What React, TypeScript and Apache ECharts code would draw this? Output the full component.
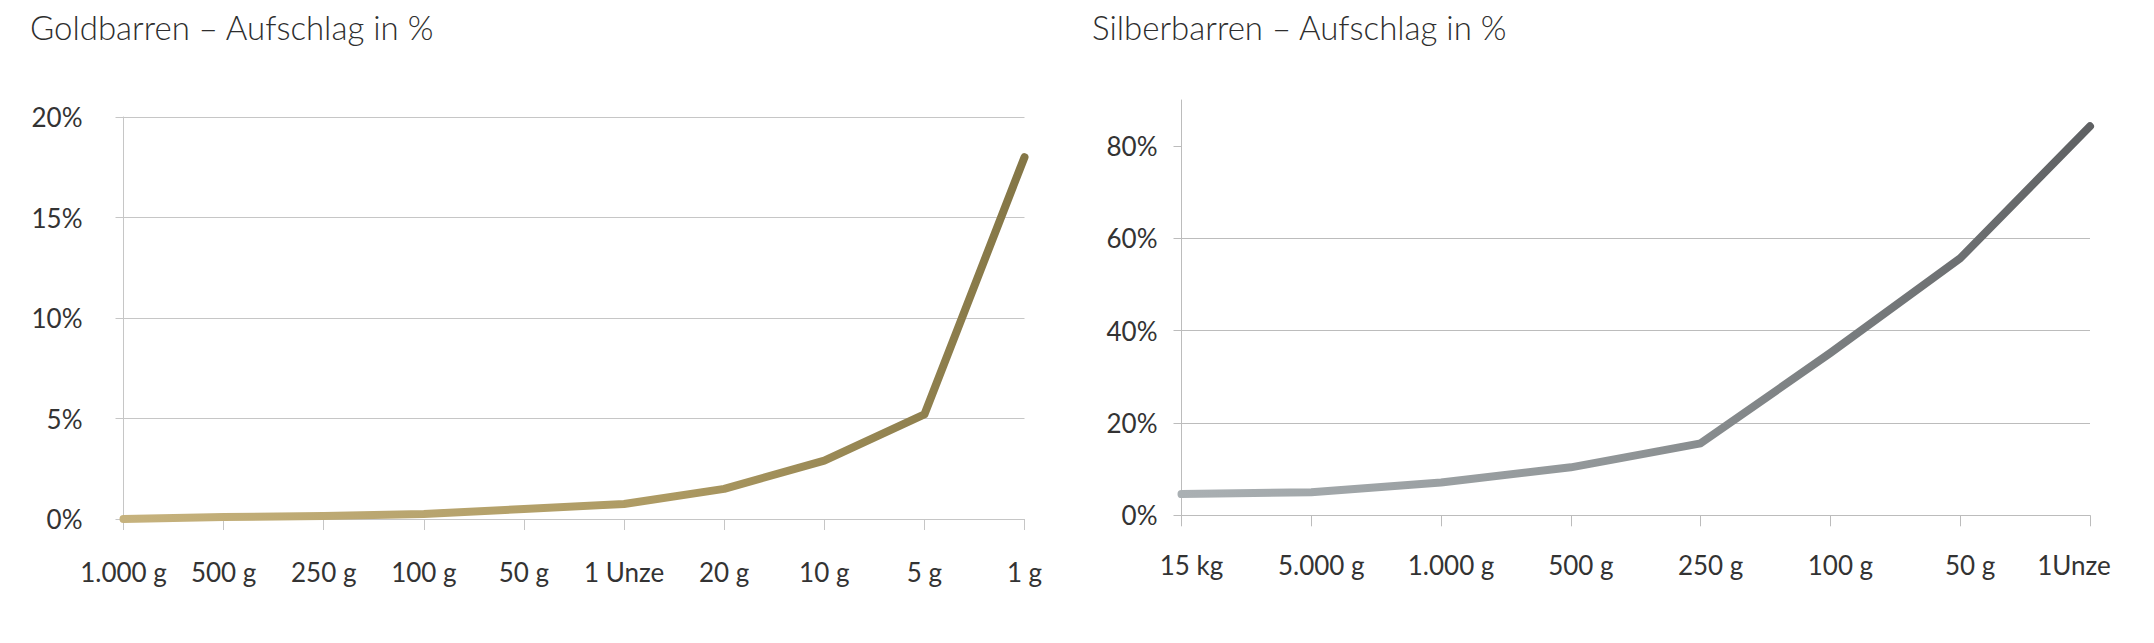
import React, { useEffect, useRef } from 'react';
import * as echarts from 'echarts';

const goldTitle = 'Goldbarren – Aufschlag in %';
const silverTitle = 'Silberbarren – Aufschlag in %';

const goldCategories = ['1.000 g', '500 g', '250 g', '100 g', '50 g', '1 Unze', '20 g', '10 g', '5 g', '1 g'];
const goldPremium = [0, 0.1, 0.15, 0.25, 0.5, 0.75, 1.5, 2.9, 5.2, 18.0];
const goldTicks = [0, 5, 10, 15, 20];

const silverCategories = ['15 kg', '5.000 g', '1.000 g', '500 g', '250 g', '100 g', '50 g', '1Unze'];
const silverPremium = [4.6, 5.0, 7.1, 10.4, 15.6, 35.2, 55.7, 84.3];
const silverTicks = [0, 20, 40, 60, 80];
const silverAxisMax = 90;

const FONT = 'Lato, "Open Sans", "Liberation Sans", sans-serif';
const TEXT = '#333333';

export default function App() {
  const ref = useRef<HTMLDivElement>(null);

  useEffect(() => {
    if (!ref.current) return;
    const chart = echarts.init(ref.current, undefined, { renderer: 'svg' });

    const goldGradient = new echarts.graphic.LinearGradient(0, 0, 1, 0, [
      { offset: 0, color: '#c6b27d' },
      { offset: 0.6, color: '#ad9a63' },
      { offset: 1, color: '#847646' },
    ]);
    const silverGradient = new echarts.graphic.LinearGradient(0, 0, 1, 0, [
      { offset: 0, color: '#aab0b3' },
      { offset: 0.5, color: '#8f9496' },
      { offset: 1, color: '#5f6163' },
    ]);

    const lastSilver = silverCategories.length - 1;

    chart.setOption({
      animation: false,
      backgroundColor: '#ffffff',
      graphic: [
        {
          type: 'text',
          left: 30,
          top: 10,
          style: { text: goldTitle, fontSize: 33, fontWeight: 300, fontFamily: FONT, fill: '#2e2e2e' },
        },
        {
          type: 'text',
          left: 1092,
          top: 10,
          style: { text: silverTitle, fontSize: 33, fontWeight: 300, fontFamily: FONT, fill: '#2e2e2e' },
        },
      ],
      grid: [
        { left: 123.5, top: 117, width: 901, height: 402 },
        { left: 1181.5, top: 100, width: 908.5, height: 415.3 },
      ],
      xAxis: [
        {
          type: 'category',
          gridIndex: 0,
          data: goldCategories,
          boundaryGap: false,
          axisLine: { show: true, lineStyle: { color: '#c6c6c6', width: 1 } },
          axisTick: { show: true, length: 11, interval: 0, lineStyle: { color: '#c6c6c6' } },
          axisLabel: { interval: 0, margin: 40, fontSize: 26, fontFamily: FONT, color: TEXT },
          splitLine: { show: false },
        },
        {
          type: 'category',
          gridIndex: 1,
          data: silverCategories,
          boundaryGap: false,
          axisLine: { show: true, lineStyle: { color: '#bcbcbc', width: 1 } },
          axisTick: { show: true, length: 11, interval: 0, lineStyle: { color: '#bcbcbc' } },
          axisLabel: {
            interval: 0,
            margin: 37,
            fontSize: 26,
            fontFamily: FONT,
            color: TEXT,
            formatter: (v: string, i: number) => (i === lastSilver ? `{l|${v}}` : `{r|${v}}`),
            rich: {
              r: { padding: [0, 0, 0, 20], fontSize: 26, fontFamily: FONT, color: TEXT },
              l: { padding: [0, 32, 0, 0], fontSize: 26, fontFamily: FONT, color: TEXT },
            },
          },
          splitLine: { show: false },
        },
      ],
      yAxis: [
        {
          type: 'value',
          gridIndex: 0,
          min: goldTicks[0],
          max: goldTicks[goldTicks.length - 1],
          interval: 5,
          axisLine: { show: true, lineStyle: { color: '#c6c6c6', width: 1 } },
          axisTick: { show: true, length: 8, lineStyle: { color: '#c6c6c6' } },
          axisLabel: { margin: 41, fontSize: 26, fontFamily: FONT, color: TEXT, formatter: '{value}%' },
          splitLine: { show: true, lineStyle: { color: '#c6c6c6', width: 1 } },
        },
        {
          type: 'value',
          gridIndex: 1,
          min: silverTicks[0],
          max: silverAxisMax,
          interval: 20,
          axisLine: { show: true, lineStyle: { color: '#bcbcbc', width: 1 } },
          axisTick: { show: true, length: 8, customValues: silverTicks, lineStyle: { color: '#bcbcbc' } },
          axisLabel: {
            margin: 24,
            fontSize: 26,
            fontFamily: FONT,
            color: TEXT,
            formatter: '{value}%',
            showMaxLabel: false,
          },
          splitLine: { show: true, showMaxLine: false, lineStyle: { color: '#bcbcbc', width: 1 } },
        },
      ],
      series: [
        {
          type: 'line',
          xAxisIndex: 0,
          yAxisIndex: 0,
          data: goldPremium,
          symbol: 'none',
          lineStyle: { width: 8, color: goldGradient, cap: 'round', join: 'round' },
          itemStyle: { color: '#a8955f' },
        },
        {
          type: 'line',
          xAxisIndex: 1,
          yAxisIndex: 1,
          data: silverPremium,
          symbol: 'none',
          lineStyle: { width: 8, color: silverGradient, cap: 'round', join: 'round' },
          itemStyle: { color: '#8a8f91' },
        },
      ],
    });

    return () => {
      chart.dispose();
    };
  }, []);

  return (
    <div
      ref={ref}
      style={{ position: 'absolute', left: 0, top: 0, width: 2154, height: 643 }}
    />
  );
}
